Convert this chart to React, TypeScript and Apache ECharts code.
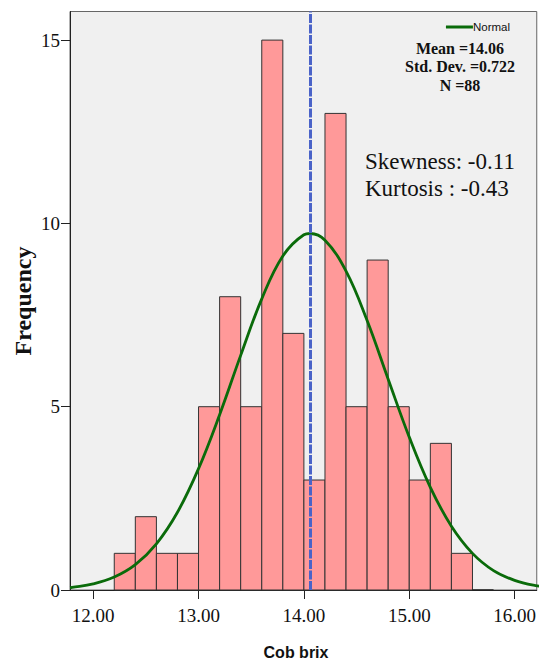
import React, { useEffect, useRef } from "react";
import * as echarts from "echarts";

// Histogram bins (left edges, width 0.2) and frequencies
const binStarts = [12.2, 12.4, 12.6, 12.8, 13.0, 13.2, 13.4, 13.6, 13.8, 14.0, 14.2, 14.4, 14.6, 14.8, 15.0, 15.2, 15.4, 15.6];
const frequencies = [1, 2, 1, 1, 5, 8, 5, 15, 7, 3, 13, 5, 9, 5, 3, 4, 1, 0];
const binWidth = 0.2;

// Normal curve points
const curveX = [11.78, 11.8, 12.0, 12.2, 12.4, 12.6, 12.8, 13.0, 13.2, 13.4, 13.6, 13.8, 14.0, 14.06, 14.2, 14.4, 14.6, 14.8, 15.0, 15.2, 15.4, 15.6, 15.8, 16.0, 16.2, 16.37];
const curveY = [0.066, 0.072, 0.166, 0.352, 0.691, 1.259, 2.12, 3.31, 4.78, 6.4, 7.94, 9.11, 9.69, 9.725, 9.54, 8.7, 7.35, 5.75, 4.17, 2.8, 1.74, 1.0, 0.53, 0.263, 0.12, 0.058];

const meanValue = 14.06;
const xTicks = [12, 13, 14, 15, 16];
const yTicks = [0, 5, 10, 15];
const statsLines = ["Mean =14.06", "Std. Dev. =0.722", "N =88"];
const noteLines = ["Skewness: -0.11", "Kurtosis : -0.43"];
const xTitle = "Cob brix";
const yTitle = "Frequency";

export default function App() {
  const ref = useRef<HTMLDivElement>(null);
  useEffect(() => {
    document.body.style.margin = "0";
    if (!ref.current) return;
    const chart = echarts.init(ref.current, null, { renderer: "svg" });
    const barData = binStarts.map((s, i) => [s, s + binWidth, frequencies[i]]);
    const curveData = curveX.map((x, i) => [x, curveY[i]]);
    chart.setOption({
      animation: false,
      backgroundColor: "#ffffff",
      grid: {
        left: 70,
        right: 2,
        top: 11.5,
        bottom: 74,
        show: true,
        backgroundColor: "#f0f0f0",
        borderColor: "#666666",
        borderWidth: 1,
      },
      legend: {
        data: [{ name: "Normal", icon: "rect" }],
        right: 24,
        top: 16,
        itemWidth: 27,
        itemHeight: 3,
        textStyle: { fontFamily: "Liberation Sans", fontSize: 11.5, color: "#111", padding: [0, 0, 0, -5] },
      },
      xAxis: {
        type: "value",
        min: 11.78,
        max: 16.21,
        interval: 1,
        axisLine: { show: true, lineStyle: { color: "#222", width: 1 } },
        axisTick: { show: true, inside: false, length: 9, lineStyle: { color: "#222" }, customValues: xTicks },
        axisLabel: {
          customValues: xTicks,
          formatter: (v: number) => v.toFixed(2),
          fontFamily: "Liberation Serif",
          fontSize: 19,
          color: "#111",
          margin: 16,
        },
        splitLine: { show: false },
      },
      yAxis: {
        type: "value",
        min: 0,
        max: 15.78,
        axisLine: { show: true, lineStyle: { color: "#222", width: 1 } },
        axisTick: { show: true, length: 9, lineStyle: { color: "#222" }, customValues: yTicks },
        axisLabel: {
          customValues: yTicks,
          fontFamily: "Liberation Serif",
          fontSize: 19,
          color: "#111",
          margin: 10,
        },
        splitLine: { show: false },
      },
      series: [
        {
          type: "custom",
          name: "Histogram",
          data: barData,
          encode: { x: [0, 1], y: 2 },
          renderItem: (params: any, api: any) => {
            const x0 = api.value(0);
            const x1 = api.value(1);
            const v = api.value(2);
            const p0 = api.coord([x0, v]);
            const p1 = api.coord([x1, 0]);
            if (v === 0) {
              return {
                type: "line",
                shape: { x1: p0[0], y1: p1[1], x2: p1[0], y2: p1[1] },
                style: { stroke: "#222", lineWidth: 1.5 },
              };
            }
            return {
              type: "rect",
              shape: { x: p0[0], y: p0[1], width: p1[0] - p0[0], height: p1[1] - p0[1] },
              style: { fill: "#ff9999", stroke: "#333333", lineWidth: 1 },
            };
          },
          z: 2,
        },
        {
          type: "line",
          name: "Normal",
          data: curveData,
          smooth: 0.4,
          showSymbol: false,
          symbol: "none",
          lineStyle: { color: "#0a6b0a", width: 2.8 },
          itemStyle: { color: "#0a6b0a" },
          z: 4,
          markLine: {
            silent: true,
            symbol: "none",
            label: { show: false },
            lineStyle: { color: "#4a63c8", width: 3, type: [9, 1.5] },
            data: [{ xAxis: meanValue }],
          },
        },
      ],
      graphic: [
        ...statsLines.map((t, i) => ({
          type: "text",
          x: 460,
          y: 48 + i * 18.5,
          style: {
            text: t,
            fontFamily: "Liberation Serif",
            fontWeight: "bold",
            fontSize: 16,
            fill: "#111",
            textAlign: "center",
            textVerticalAlign: "middle",
          },
          z: 10,
        })),
        ...noteLines.map((t, i) => ({
          type: "text",
          x: 365,
          y: 161 + i * 27,
          style: {
            text: t,
            fontFamily: "Liberation Serif",
            fontSize: 23,
            fill: "#111",
            textAlign: "left",
            textVerticalAlign: "middle",
          },
          z: 10,
        })),
        {
          type: "text",
          x: 296,
          y: 652,
          style: {
            text: xTitle,
            fontFamily: "Liberation Sans",
            fontWeight: "bold",
            fontSize: 16,
            fill: "#111",
            textAlign: "center",
            textVerticalAlign: "middle",
          },
        },
        {
          type: "text",
          x: 23,
          y: 301,
          rotation: Math.PI / 2,
          style: {
            text: yTitle,
            fontFamily: "Liberation Serif",
            fontWeight: "bold",
            fontSize: 24,
            fill: "#111",
            textAlign: "center",
            textVerticalAlign: "middle",
          },
        },
      ],
    });
    return () => chart.dispose();
  }, []);
  return <div ref={ref} style={{ width: 539, height: 664 }} />;
}
